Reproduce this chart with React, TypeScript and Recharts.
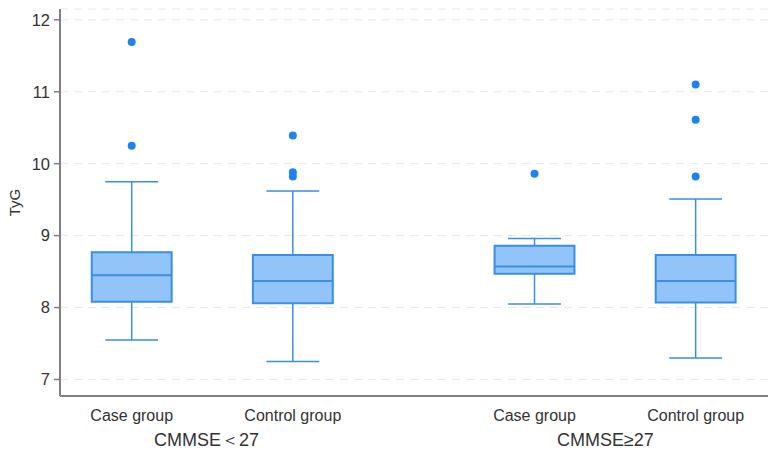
import React from "react";
import {
  ComposedChart,
  XAxis,
  YAxis,
  CartesianGrid,
  Scatter,
  ReferenceArea,
  ReferenceLine,
} from "recharts";

// ---- data ----
const categories = ["Case group", "Control group", "Case group", "Control group"];
const positions = [1, 2, 3.5, 4.5];
const lowerWhisker = [7.55, 7.25, 8.05, 7.3];
const q1 = [8.08, 8.06, 8.47, 8.07];
const median = [8.45, 8.37, 8.57, 8.37];
const q3 = [8.77, 8.73, 8.86, 8.73];
const upperWhisker = [9.75, 9.62, 8.96, 9.51];
const outliers = [
  [11.69, 10.25],
  [10.39, 9.88, 9.82],
  [9.86],
  [11.1, 10.61, 9.82],
];
const groupLabels = ["CMMSE\uFF1C27", "CMMSE\u226527"];
const groupLabelPos = [1.465, 3.94];
const yTicks = [7, 8, 9, 10, 11, 12];

// ---- style ----
const BOX_HALF = 0.248;
const CAP_HALF = 0.164;
const FILL = "#93c4f9";
const STROKE = "#3a8ee3";
const DOT = "#1e82f0";
const AXIS = "#808080";
const TEXT = "#333333";
const FONT = "'Liberation Sans', Arial, sans-serif";
const X_DOMAIN: [number, number] = [0.555, 4.949];

const outlierData = outliers.flatMap((vals, i) =>
  vals.map((v) => ({ x: positions[i], y: v }))
);

const CatTick = (props: any) => {
  const { x, y, payload } = props;
  const idx = positions.indexOf(payload.value);
  return (
    <text x={x} y={y + 25} textAnchor="middle" fontFamily={FONT} fontSize={16} fill={TEXT}>
      {idx >= 0 ? categories[idx] : ""}
    </text>
  );
};

const GroupTick = (props: any) => {
  const { x, y, payload } = props;
  const idx = groupLabelPos.indexOf(payload.value);
  return (
    <text x={x} y={y + 17} textAnchor="middle" fontFamily={FONT} fontSize={18} fill={TEXT}>
      {idx >= 0 ? groupLabels[idx] : ""}
    </text>
  );
};

const YLabel = (props: any) => {
  const vb = props.viewBox || { x: 0, y: 0, width: 60, height: 387 };
  const cx = vb.x + 14;
  const cy = vb.y + vb.height / 2;
  return (
    <text
      x={cx}
      y={cy}
      transform={`rotate(-90, ${cx}, ${cy})`}
      textAnchor="middle"
      dominantBaseline="central"
      fontFamily={FONT}
      fontSize={15}
      fill={TEXT}
    >
      TyG
    </text>
  );
};

export default function App() {
  return (
    <div style={{ position: "absolute", left: 0, top: 0, background: "#fff" }}>
      <ComposedChart
        width={776}
        height={453}
        margin={{ top: 9, right: 8, bottom: 0, left: 0 }}
      >
        <CartesianGrid
          vertical={false}
          stroke="#e8e8e8"
          strokeDasharray="8 6"
        />
        <XAxis
          xAxisId="cat"
          type="number"
          dataKey="x"
          domain={X_DOMAIN}
          ticks={positions}
          interval={0}
          allowDataOverflow
          height={33}
          tickSize={0}
          tickMargin={0}
          tickLine={false}
          axisLine={{ stroke: AXIS, strokeWidth: 2 }}
          tick={<CatTick />}
        />
        <XAxis
          xAxisId="grp"
          type="number"
          dataKey="x"
          domain={X_DOMAIN}
          ticks={groupLabelPos}
          interval={0}
          allowDataOverflow
          height={24}
          tickSize={0}
          tickMargin={0}
          tickLine={false}
          axisLine={false}
          tick={<GroupTick />}
        />
        <YAxis
          type="number"
          domain={[6.77, 12.15]}
          ticks={yTicks}
          interval={0}
          allowDataOverflow
          width={60}
          tickSize={6}
          tickMargin={4}
          axisLine={{ stroke: AXIS, strokeWidth: 2 }}
          tickLine={{ stroke: AXIS, strokeWidth: 1.5 }}
          tick={{ fontFamily: FONT, fontSize: 16.5, fill: TEXT }}
          label={<YLabel />}
        />
        {positions.map((p, i) => (
          <ReferenceLine
            key={`wu${i}`}
            xAxisId="cat"
            segment={[{ x: p, y: q3[i] }, { x: p, y: upperWhisker[i] }]}
            stroke={STROKE}
            strokeWidth={1.5}
          />
        ))}
        {positions.map((p, i) => (
          <ReferenceLine
            key={`wl${i}`}
            xAxisId="cat"
            segment={[{ x: p, y: lowerWhisker[i] }, { x: p, y: q1[i] }]}
            stroke={STROKE}
            strokeWidth={1.5}
          />
        ))}
        {positions.map((p, i) => (
          <ReferenceLine
            key={`cu${i}`}
            xAxisId="cat"
            segment={[{ x: p - CAP_HALF, y: upperWhisker[i] }, { x: p + CAP_HALF, y: upperWhisker[i] }]}
            stroke={STROKE}
            strokeWidth={1.5}
          />
        ))}
        {positions.map((p, i) => (
          <ReferenceLine
            key={`cl${i}`}
            xAxisId="cat"
            segment={[{ x: p - CAP_HALF, y: lowerWhisker[i] }, { x: p + CAP_HALF, y: lowerWhisker[i] }]}
            stroke={STROKE}
            strokeWidth={1.5}
          />
        ))}
        {positions.map((p, i) => (
          <ReferenceArea
            key={`box${i}`}
            xAxisId="cat"
            x1={p - BOX_HALF}
            x2={p + BOX_HALF}
            y1={q1[i]}
            y2={q3[i]}
            fill={FILL}
            fillOpacity={1}
            stroke={STROKE}
            strokeWidth={2}
          />
        ))}
        {positions.map((p, i) => (
          <ReferenceLine
            key={`med${i}`}
            xAxisId="cat"
            segment={[{ x: p - BOX_HALF, y: median[i] }, { x: p + BOX_HALF, y: median[i] }]}
            stroke={STROKE}
            strokeWidth={2}
          />
        ))}
        <Scatter
          xAxisId="cat"
          data={outlierData}
          dataKey="y"
          fill={DOT}
          isAnimationActive={false}
          shape={(props: any) => <circle cx={props.cx} cy={props.cy} r={4} fill={DOT} />}
        />
      </ComposedChart>
    </div>
  );
}
